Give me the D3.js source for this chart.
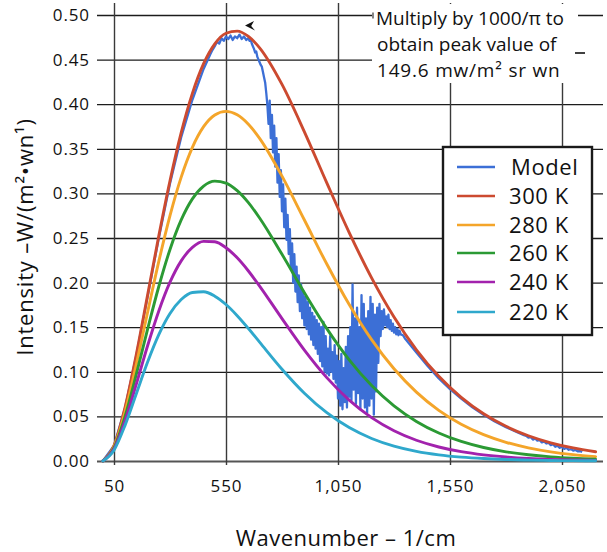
<!DOCTYPE html>
<html><head><meta charset="utf-8">
<script src="https://cdn.jsdelivr.net/npm/d3@7"></script>
<style>
html,body{margin:0;padding:0;background:#fff;}
svg{display:block;}
</style></head><body>
<svg id="chart" width="607" height="552"></svg>
<script>
// ---------- data ----------
const wavenumbers = [0,50,100,150,200,250,300,350,400,450,500,550,600,650,700,800,900,1000,1100,1200,1300,1400,1500,1600,1700,1800,1900,2000,2100,2200];
const t300 = [0,0.01726,0.06080,0.11991,0.18598,0.25236,0.31414,0.36810,0.41217,0.44541,0.46770,0.47955,0.48195,0.47602,0.46318,0.42217,0.36902,0.31174,0.25606,0.20533,0.16144,0.12471,0.09491,0.07129,0.05292,0.03888,0.02830,0.02043,0.01464,0.01042];
const t280 = [0,0.01597,0.05571,0.10873,0.16680,0.22372,0.27513,0.31829,0.35163,0.37479,0.38793,0.39198,0.38809,0.37751,0.36165,0.31931,0.27016,0.22081,0.17538,0.13601,0.10335,0.07718,0.05677,0.04121,0.02956,0.02099,0.01477,0.01030,0.00713,0.00491];
const t260 = [0,0.01467,0.05062,0.09764,0.14786,0.19563,0.23715,0.27023,0.29391,0.30819,0.31372,0.31158,0.30305,0.28958,0.27237,0.23168,0.18871,0.14842,0.11340,0.08456,0.06180,0.04437,0.03137,0.02189,0.01510,0.01030,0.00697,0.00467,0.00311,0.00206];
const t240 = [0,0.01338,0.04557,0.08664,0.12921,0.16820,0.20044,0.22432,0.23946,0.24626,0.24573,0.23911,0.22776,0.21303,0.19610,0.15962,0.12433,0.09345,0.06822,0.04860,0.03392,0.02326,0.01571,0.01047,0.00689,0.00449,0.00290,0.00186,0.00118,0.00075];
const t220 = [0,0.01209,0.04053,0.07576,0.11093,0.14159,0.16526,0.18098,0.18886,0.18968,0.18479,0.17543,0.16295,0.14856,0.13326,0.10291,0.07600,0.05413,0.03744,0.02526,0.01670,0.01084,0.00693,0.00438,0.00273,0.00168,0.00103,0.00063,0.00038,0.00023];

// Model spectrum: [wavenumber, intensity]
const modelPoints = [
[0,0],[50,0.0171],[100,0.0602],[150,0.1188],[200,0.1843],[250,0.2500],[300,0.3110],[350,0.3630],[400,0.4050],[450,0.4395],
[480,0.4560],[490,0.4610],[500,0.4650],[510,0.4700],[520,0.4680],[530,0.4740],[540,0.4710],[550,0.4760],[560,0.4730],[570,0.4770],
[580,0.4720],[590,0.4760],[600,0.4740],[610,0.4780],[620,0.4730],[630,0.4760],[640,0.4720],
[650,0.474],[655,0.471],[660,0.473],[665,0.468],[670,0.465],[675,0.462],[680,0.458],[685,0.459],[690,0.453],[695,0.450],
[700,0.447],[705,0.444],[710,0.442],[715,0.436],[720,0.430],[725,0.424],[730,0.412],[735,0.398],[740,0.378],[745,0.404],
[750,0.362],[755,0.388],[760,0.346],[765,0.376],[770,0.330],[775,0.362],[780,0.312],[785,0.344],[790,0.296],[795,0.326],
[800,0.280],[805,0.310],[810,0.262],[815,0.294],[820,0.248],[825,0.276],[830,0.232],[835,0.260],[840,0.216],[845,0.244],
[850,0.200],[855,0.232],[860,0.190],[865,0.218],[870,0.178],[875,0.208],[880,0.168],[885,0.198],[890,0.160],[895,0.190],
[900,0.152],[905,0.184],[910,0.148],[915,0.178],[920,0.142],[925,0.172],[930,0.136],[935,0.166],[940,0.130],[945,0.162],
[950,0.126],[955,0.158],[960,0.120],[965,0.154],[970,0.112],[975,0.150],[980,0.106],[985,0.156],[990,0.100],[995,0.140],
[1000,0.098],[1005,0.126],[1010,0.096],[1015,0.140],[1020,0.100],[1025,0.122],[1030,0.092],[1035,0.130],[1040,0.088],[1045,0.118],
[1050,0.070],[1055,0.112],[1060,0.062],[1065,0.120],[1070,0.058],[1075,0.104],[1080,0.066],[1085,0.128],[1090,0.060],[1095,0.140],
[1100,0.072],[1105,0.150],[1110,0.068],[1115,0.198],[1120,0.080],[1125,0.160],[1130,0.064],[1135,0.172],[1140,0.076],[1145,0.150],
[1150,0.058],[1155,0.186],[1160,0.070],[1165,0.176],[1170,0.060],[1175,0.160],[1180,0.054],[1185,0.168],[1190,0.062],[1195,0.184],
[1200,0.070],[1205,0.176],[1210,0.052],[1215,0.164],[1220,0.078],[1225,0.172],[1230,0.110],[1235,0.176],[1240,0.140],[1245,0.168],
[1250,0.148],[1255,0.170],[1260,0.152],[1265,0.162],[1270,0.150],[1275,0.164],[1280,0.148],[1285,0.158],[1290,0.146],[1295,0.154],
[1300,0.144],[1305,0.150],[1310,0.142],[1315,0.148],[1320,0.141],[1325,0.146],[1330,0.142],[1340,0.141],[1350,0.137],
[1400,0.1215],[1450,0.1065],[1500,0.0925],[1550,0.0805],[1600,0.0700],[1650,0.0602],[1700,0.0518],[1750,0.0444],[1800,0.0380],[1850,0.0322],
[1880,0.0290],[1890,0.0282],[1900,0.0262],[1910,0.0268],[1920,0.0240],[1930,0.0252],[1940,0.0228],[1950,0.0236],[1960,0.0208],[1970,0.0220],
[1980,0.0196],[1990,0.0204],[2000,0.0178],[2010,0.0188],[2020,0.0160],[2030,0.0172],[2040,0.0148],[2050,0.0160],[2060,0.0136],[2070,0.0148],
[2080,0.0126],[2090,0.0134],[2100,0.0116],[2110,0.0124],[2120,0.0108],[2130,0.0112],[2140,0.0100]
];

const seriesNames = ["Model","300 K","280 K","260 K","240 K","220 K"];
const seriesColors = ["#3c6fd6","#cc4a30","#f4a52a","#2b9a34","#a222ad","#2fa8cc"];
const tempSeries = [t300, t280, t260, t240, t220];

const xTicks = [50,550,1050,1550,2050];
const xTickLabels = ["50","550","1,050","1,550","2,050"];
const yTicks = [0,0.05,0.10,0.15,0.20,0.25,0.30,0.35,0.40,0.45,0.50];
const yTickLabels = ["0.00","0.05","0.10","0.15","0.20","0.25","0.30","0.35","0.40","0.45","0.50"];
const xTitle = "Wavenumber \u2013 1/cm";
const yTitle = "Intensity \u2013W/(m\u00B2\u2022wn\u00B9)";
const noteLines = ["Multiply by 1000/\u03C0 to","obtain peak value of","149.6 mw/m\u00B2 sr wn"];

// ---------- layout ----------
const FONT = "'Open Sans', sans-serif";
const svg = d3.select("#chart");
const x = d3.scaleLinear().domain([50,2050]).range([114,562]);
const y = d3.scaleLinear().domain([0,0.5]).range([461,15]);
const gridLeft = 97, gridRight = 603, plotTop = 3;

// horizontal grid + y labels
const gy = svg.append("g").attr("transform",`translate(${gridLeft},0)`)
  .call(d3.axisLeft(y).tickValues(yTicks).tickFormat((d,i)=>yTickLabels[i])
        .tickSize(-(gridRight-gridLeft)).tickPadding(7));
gy.select(".domain").remove();
gy.selectAll(".tick line").attr("stroke","#1c1c1c").attr("stroke-width",1.3);
gy.selectAll(".tick text").attr("font-family",FONT).attr("font-size",17)
  .attr("letter-spacing",0.9).attr("fill","#111");
gy.selectAll(".tick").filter(d=>d===0).select("line").attr("stroke","#555").attr("stroke-width",2);

// vertical grid + x labels
const gx = svg.append("g").attr("transform","translate(0,461)")
  .call(d3.axisBottom(x).tickValues(xTicks).tickFormat((d,i)=>xTickLabels[i])
        .tickSize(-(461-plotTop)).tickPadding(19));
gx.select(".domain").remove();
gx.selectAll(".tick line").attr("stroke","#3a3a3a").attr("stroke-width",1.4).attr("y1",4);
gx.selectAll(".tick text").attr("font-family",FONT).attr("font-size",17)
  .attr("letter-spacing",0.9).attr("fill","#111");

// note box (covers grid)
svg.append("rect").attr("x",372).attr("y",4).attr("width",206).attr("height",16).attr("fill","#fff");
svg.append("rect").attr("x",372).attr("y",20).attr("width",235).attr("height",63).attr("fill","#fff");
const note = svg.append("g");
note.selectAll("text").data(noteLines).join("text")
  .attr("x",(d,i)=> i===0 ? 376 : 377)
  .attr("y",(d,i)=>25 + i*26)
  .attr("font-family",FONT).attr("font-size",19)
  .attr("letter-spacing",(d,i)=> i===2 ? 0.8 : 0)
  .attr("fill","#111").text(d=>d);
svg.append("line").attr("x1",373).attr("x2",373).attr("y1",12.5).attr("y2",18.5).attr("stroke","#333").attr("stroke-width",1.2);
svg.append("line").attr("x1",575).attr("x2",585).attr("y1",53).attr("y2",53).attr("stroke","#111").attr("stroke-width",1.6);

// curves
const line = d3.line().x(d=>x(d[0])).y(d=>y(d[1])).curve(d3.curveMonotoneX);
svg.append("path").datum(modelPoints).attr("d",d3.line().x(d=>x(d[0])).y(d=>y(d[1])))
  .attr("fill","none").attr("stroke",seriesColors[0]).attr("stroke-width",2.3).attr("stroke-linejoin","round");
tempSeries.forEach((s,k)=>{
  svg.append("path").datum(wavenumbers.map((w,i)=>[w,s[i]])).attr("d",line)
    .attr("fill","none").attr("stroke",seriesColors[k+1]).attr("stroke-width",2.9)
    .attr("stroke-linecap","round");
});

// arrowhead marker near peak
svg.append("path").attr("d","M245,25.5 L254,21 L251.2,26 L255,30.5 Z").attr("fill","#111");

// legend
const lg = svg.append("g");
lg.append("rect").attr("x",443).attr("y",147).attr("width",149).attr("height",188)
  .attr("fill","#fff").attr("stroke","#1a1a1a").attr("stroke-width",2.4);
const legY = [167,196,225,253,282,312];
seriesNames.forEach((n,i)=>{
  lg.append("line").attr("x1",457).attr("x2",495).attr("y1",legY[i]).attr("y2",legY[i])
    .attr("stroke",seriesColors[i]).attr("stroke-width",2.4);
  lg.append("text").attr("x", i===0 ? 511 : 509).attr("y",legY[i]).attr("dy","0.36em")
    .attr("font-family",FONT).attr("font-size",22).attr("letter-spacing",0.6)
    .attr("fill","#111").text(n);
});

// axis titles
svg.append("text").attr("x",346).attr("y",546).attr("text-anchor","middle")
  .attr("font-family",FONT).attr("font-size",22).attr("letter-spacing",0.5)
  .attr("fill","#111").text(xTitle);
svg.append("text").attr("transform","translate(33,237) rotate(-90)").attr("text-anchor","middle")
  .attr("font-family",FONT).attr("font-size",22).attr("letter-spacing",0.8)
  .attr("fill","#111").text(yTitle);
</script>
</body></html>
